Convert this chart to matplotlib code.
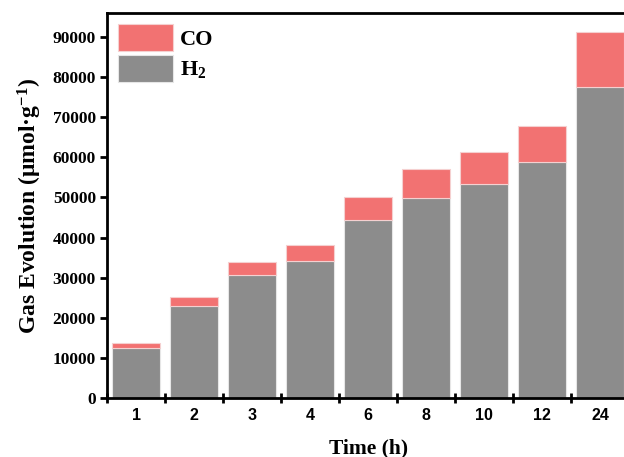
import matplotlib
matplotlib.use("Agg")
import matplotlib.pyplot as plt
import numpy as np
from matplotlib.ticker import FixedLocator

plt.rcParams["mathtext.fontset"] = "custom"
plt.rcParams["mathtext.rm"] = "Liberation Serif:bold"
plt.rcParams["mathtext.bf"] = "Liberation Serif:bold"
plt.rcParams["mathtext.it"] = "Liberation Serif:italic:bold"

# data
times = ["1", "2", "3", "4", "6", "8", "10", "12", "24"]
h2 = [12500, 22900, 30700, 34100, 44500, 49800, 53400, 58800, 77500]
total = [13600, 25100, 33900, 38150, 50000, 57000, 61400, 67800, 91300]
co = [t - h for t, h in zip(total, h2)]

fig = plt.figure(figsize=(6.24, 4.57), dpi=100)
ax = fig.add_axes([0.1715, 0.129, 0.837, 0.8426])

x = np.arange(len(times))
ax.bar(x, h2, width=0.82, color="#8c8c8c", edgecolor="#e6e6e6", linewidth=0.8, label="H$_2$")
ax.bar(x, co, bottom=h2, width=0.82, color="#f27272", edgecolor="#f5d0d0", linewidth=0.8, label="CO")

ax.set_xlim(-0.5, len(times) - 0.5)
ax.set_ylim(0, 96000)
ax.set_yticks(np.arange(0, 90001, 10000))

ax.set_xticks(x)
ax.set_xticklabels(times, family="Liberation Sans", fontweight="bold", fontsize=11.5)
ax.xaxis.set_minor_locator(FixedLocator(np.arange(-0.5, len(times), 1.0)))
ax.tick_params(axis="x", which="major", length=0, pad=7)
ax.tick_params(axis="x", which="minor", direction="inout", length=7, width=2)
ax.tick_params(axis="y", direction="out", length=5, width=2, pad=3)
for lab in ax.get_yticklabels():
    lab.set_family("Liberation Serif")
    lab.set_fontweight("bold")
    lab.set_fontsize(12.5)

for s in ["left", "bottom", "top"]:
    ax.spines[s].set_linewidth(2)
ax.spines["right"].set_visible(False)

ax.set_xlabel("Time (h)", family="Liberation Serif", fontweight="bold", fontsize=15.5, labelpad=11)
ax.set_ylabel("Gas Evolution (μmol·g$^{-1}$)", family="Liberation Serif",
              fontweight="bold", fontsize=17, labelpad=6)

handles, labels = ax.get_legend_handles_labels()
leg = ax.legend(handles[::-1], labels[::-1], loc="upper left", frameon=False,
                prop={"family": "Liberation Serif", "weight": "bold", "size": 16},
                handlelength=2.45, handleheight=1.5, handletextpad=0.35,
                labelspacing=0.15, borderaxespad=0.1, bbox_to_anchor=(0.0, 1.0))

fig.savefig("out.png", dpi=100)
